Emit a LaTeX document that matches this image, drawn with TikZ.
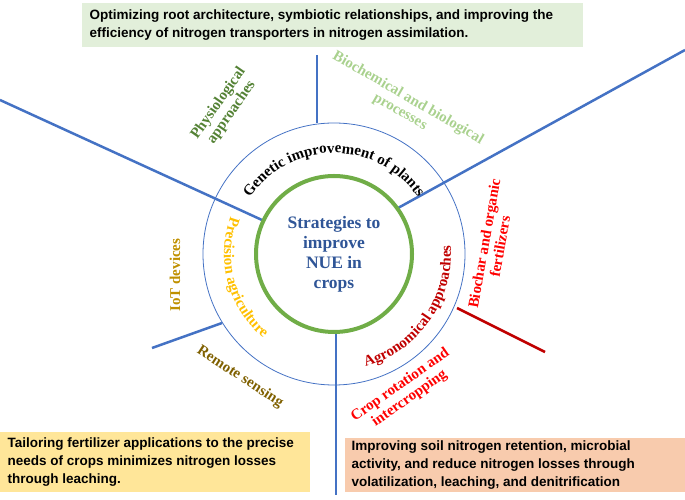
\documentclass[tikz,border=0pt]{standalone}
\usepackage{fontspec}
\setmainfont{Liberation Serif}
\newfontfamily\boxfont{Liberation Sans}
\usetikzlibrary{decorations.text}
\usetikzlibrary{calc}
\definecolor{spokeblue}{HTML}{4472C4}
\definecolor{ringgreen}{HTML}{70AD47}
\definecolor{physgreen}{HTML}{548235}
\definecolor{biogreen}{HTML}{A9D18E}
\definecolor{iotgold}{HTML}{BF9000}
\definecolor{remotebrown}{HTML}{7F6000}
\definecolor{precgold}{HTML}{FFC000}
\definecolor{agrored}{HTML}{C00000}
\definecolor{centreblue}{HTML}{2F5597}
\definecolor{boxgreen}{HTML}{E2EFDA}
\definecolor{boxyellow}{HTML}{FFE699}
\definecolor{boxpeach}{HTML}{F8CBAD}
\tikzset{
  spoke/.style={spokeblue, line width=2.5pt},
  lab/.style={font=\bfseries\fontsize{15}{16}\selectfont, align=center},
  infobox/.style={font=\boxfont\bfseries\fontsize{13.5}{18}\selectfont, align=left, anchor=west},
  arclab/.style={decorate, decoration={text along path, text align=center, text color=#1}}
}
\begin{document}
\begin{tikzpicture}[x=1pt,y=1pt]
            \useasboundingbox (0,0) rectangle (685,500);
            
            % Boxes
            \fill[boxgreen] (82,453) rectangle (583,497);
            \fill[boxyellow] (0,8) rectangle (310,68);
            \fill[boxpeach] (345,8) rectangle (685,62);
            \node[infobox] (top) at (86,475) {Optimizing root architecture, symbiotic relationships, and improving the\\efficiency of nitrogen transporters in nitrogen assimilation.};
            \node[infobox] (left) at (4,38) {Tailoring fertilizer applications to the precise\\needs of crops minimizes nitrogen losses\\through leaching.};
            \node[infobox] (right) at (348,35) {Improving soil nitrogen retention, microbial\\activity, and reduce nitrogen losses through\\volatilization, leaching, and denitrification};
            
            % Circles
            \coordinate (c) at (334,246);
            \draw[spokeblue, line width=0.8pt] (c) circle (131);
            
            % Spokes
            \coordinate (t1) at (317,445); \coordinate (t2) at (317,377);
            \coordinate (ul1) at (0,400); \coordinate (ul2) at (262,280);
            \coordinate (ur1) at (685,450); \coordinate (ur2) at (398,292);
            \coordinate (ll1) at (152,152); \coordinate (ll2) at (222,177);
            \coordinate (b1) at (336,167); \coordinate (b2) at (336,5);
            \coordinate (r1) at (457,192); \coordinate (r2) at (545,148);
            \draw[spoke] (t1) -- (t2);
            \draw[spoke] (ul1) -- (ul2);
            \draw[spoke] (ur1) -- (ur2);
            \draw[spoke] (ll1) -- (ll2);
            \draw[spoke] (b1) -- (b2);
            \draw[agrored, line width=2.5pt] (r1) -- (r2);
            
            \draw[ringgreen, line width=4pt, fill=white] (c) circle (78);
            \node[lab, centreblue, font=\bfseries\fontsize{17.5}{20}\selectfont] (nue) at (c) {Strategies to\\improve\\NUE in\\crops};
            
            % Curved labels
            \path[arclab=black, decoration={text={|\bfseries\fontsize{15}{15}\selectfont|Genetic improvement of plants}}]
              ($(c)+(160:101)$) arc (160:20:101);
            \path[arclab=precgold, decoration={text={|\bfseries\fontsize{15}{15}\selectfont|Precision agriculture}}]
              ($(c)+(135:110)$) arc (135:255:110);
            \path[arclab=agrored, decoration={text={|\bfseries\fontsize{15}{15}\selectfont|Agronomical approaches}}]
              ($(c)+(-90:117)$) arc (-90:20:117);
            
            % Outer labels
            \node[lab, physgreen, rotate=55] (phys) at (225,392) {Physiological\\approaches};
            \node[lab, biogreen, rotate=-30] (bio) at (404,395) {Biochemical and biological\\processes};
            \node[lab, iotgold, rotate=90] (iot) at (175,225) {IoT devices};
            \node[lab, remotebrown, rotate=-33] (rem) at (240,123) {Remote sensing};
            \node[lab, red, rotate=80] (bch) at (492,255) {Biochar and organic\\fertilizers};
            \node[lab, red, rotate=35] (crop) at (405,108) {Crop rotation and\\intercropping};
            
\end{tikzpicture}
\end{document}
